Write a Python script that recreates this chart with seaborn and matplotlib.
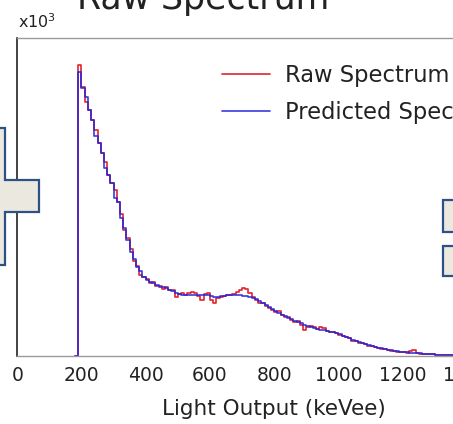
import numpy as np
import pandas as pd
import matplotlib
matplotlib.use("Agg")
import matplotlib.pyplot as plt
from matplotlib.patches import Polygon, Rectangle
import seaborn as sns

# ---------------- data (counts in units of 10^3, 10 keVee bins starting at 180 keVee) ----
bin_start = 180
bin_width = 10

raw_spectrum = [
    0.00, 9.15, 8.46, 7.99, 7.74, 7.42, 7.11, 6.70, 6.38, 6.10,
    5.69, 5.44, 5.22, 4.84, 4.45, 3.95, 3.70, 3.35, 3.00, 2.82,
    2.55, 2.50, 2.42, 2.30, 2.32, 2.20, 2.20, 2.12, 2.16, 2.06,
    2.06, 1.86, 1.95, 1.98, 1.92, 1.98, 2.02, 1.98, 1.89, 1.76,
    1.95, 1.98, 1.76, 1.67, 1.82, 1.86, 1.89, 1.92, 1.92, 1.95,
    2.00, 2.06, 2.14, 2.10, 1.98, 1.86, 1.76, 1.67, 1.67, 1.57,
    1.51, 1.45, 1.38, 1.40, 1.28, 1.22, 1.24, 1.12, 1.08, 1.10,
    0.98, 0.82, 0.91, 0.93, 0.90, 0.84, 0.92, 0.88, 0.80, 0.76,
    0.75, 0.72, 0.66, 0.62, 0.60, 0.58, 0.48, 0.47, 0.42, 0.40,
    0.38, 0.33, 0.30, 0.29, 0.25, 0.23, 0.21, 0.20, 0.17, 0.16,
    0.14, 0.13, 0.12, 0.11, 0.17, 0.19, 0.08, 0.07, 0.06, 0.07,
    0.05, 0.05, 0.04, 0.03, 0.04, 0.03, 0.02, 0.03, 0.02, 0.02,
    0.01, 0.01, 0.01,
]

predicted_spectrum = [
    0.00, 8.93, 8.43, 8.14, 7.74, 7.42, 6.92, 6.70, 6.38, 5.91,
    5.69, 5.44, 4.97, 4.84, 4.34, 4.03, 3.65, 3.27, 3.05, 2.80,
    2.67, 2.48, 2.39, 2.33, 2.30, 2.23, 2.17, 2.17, 2.14, 2.08,
    2.04, 1.97, 1.94, 1.92, 1.91, 1.91, 1.92, 1.92, 1.92, 1.92,
    1.92, 1.91, 1.89, 1.87, 1.87, 1.89, 1.90, 1.92, 1.92, 1.92,
    1.92, 1.91, 1.89, 1.88, 1.86, 1.82, 1.79, 1.73, 1.67, 1.60,
    1.54, 1.48, 1.42, 1.36, 1.30, 1.25, 1.20, 1.15, 1.10, 1.06,
    1.04, 0.98, 0.95, 0.92, 0.89, 0.86, 0.83, 0.82, 0.80, 0.77,
    0.74, 0.71, 0.68, 0.64, 0.60, 0.56, 0.50, 0.46, 0.43, 0.40,
    0.37, 0.34, 0.31, 0.28, 0.26, 0.24, 0.22, 0.20, 0.18, 0.16,
    0.15, 0.14, 0.13, 0.12, 0.11, 0.10, 0.09, 0.08, 0.07, 0.06,
    0.06, 0.05, 0.04, 0.04, 0.03, 0.03, 0.03, 0.02, 0.02, 0.02,
    0.01, 0.01, 0.01,
]

x_ticks = [0, 200, 400, 600, 800, 1000, 1200, 1400, 1600]
series_labels = ["Raw Spectrum", "Predicted Spectrum"]
title_text = "Raw Spectrum"
x_label = "Light Output (keVee)"

# ---------------- build step table ----------------
def step_frame(values, name):
    edges = bin_start + bin_width * np.arange(len(values) + 1)
    y = list(values) + [values[-1]]
    return pd.DataFrame({"keVee": edges, "counts": y, "series": name})

df_raw = step_frame(raw_spectrum, series_labels[0])
df_pred = step_frame(predicted_spectrum, series_labels[1])

# ---------------- figure ----------------
sns.set_theme(style="white")
plt.rcParams["font.family"] = ["DejaVu Sans"]

W, H = 453, 424
fig = plt.figure(figsize=(W / 100, H / 100), dpi=100)
fig.patch.set_facecolor("white")

px_per_kev = 0.32125
left_px, bottom_px, top_px = 17.2, 356, 38
xmax = 1600
ax = fig.add_axes([left_px / W, 1 - bottom_px / H,
                   (xmax * px_per_kev) / W, (bottom_px - top_px) / H])

red = "#e0242c"
blue = "#2424dc"
sns.lineplot(data=df_raw, x="keVee", y="counts", ax=ax, color=red,
             drawstyle="steps-post", estimator=None, sort=False,
             linewidth=1.2, label=series_labels[0])
sns.lineplot(data=df_pred, x="keVee", y="counts", ax=ax, color=blue,
             drawstyle="steps-post", estimator=None, sort=False,
             linewidth=1.2, alpha=0.9, label=series_labels[1])

ax.set_xlim(0, xmax)
ax.set_ylim(0, 10)
ax.set_xticks(x_ticks)
ax.set_yticks([])
ax.set_ylabel("")
ax.set_xlabel(x_label, fontsize=15.5, color="#222222", labelpad=10)
ax.tick_params(axis="x", direction="in", length=2.5, width=0.8,
               labelsize=13.5, pad=7, colors="#888888", labelcolor="#222222")

for side in ["top", "bottom", "right"]:
    ax.spines[side].set_color("#9a9a9a")
    ax.spines[side].set_linewidth(1.0)
ax.spines["left"].set_color("#222222")
ax.spines["left"].set_linewidth(1.2)

leg = ax.legend(loc="upper left", bbox_to_anchor=(222 / W, 1 - 64 / H),
                bbox_transform=fig.transFigure, frameon=False, fontsize=16.3,
                handlelength=2.1, handletextpad=0.7, labelspacing=0.62,
                borderpad=0, borderaxespad=0)
for t in leg.get_texts():
    t.set_color("#222222")

# title and exponent label
fig.text(203 / W, 1 - 9 / H, title_text, ha="center", va="baseline",
         fontsize=25, color="#222222")
fig.text(18 / W, 1 - 28 / H, r"x10$^3$", ha="left", va="baseline",
         fontsize=11.5, color="#222222")

# decorative boxes from the surrounding diagram
face = "#ebe8df"
edge = "#2c5185"
cross = [(-5, 128), (5, 128), (5, 180), (39, 180), (39, 212), (5, 212),
         (5, 265), (-5, 265)]
fig.add_artist(Polygon([(x / W, 1 - y / H) for x, y in cross], closed=True,
                       transform=fig.transFigure, facecolor=face,
                       edgecolor=edge, linewidth=1.6, zorder=10))
for (y0, y1) in [(200, 232), (246, 276)]:
    fig.add_artist(Rectangle((443 / W, 1 - y1 / H), 20 / W, (y1 - y0) / H,
                             transform=fig.transFigure, facecolor=face,
                             edgecolor=edge, linewidth=1.6, zorder=10))

fig.savefig("out.png", dpi=100)
